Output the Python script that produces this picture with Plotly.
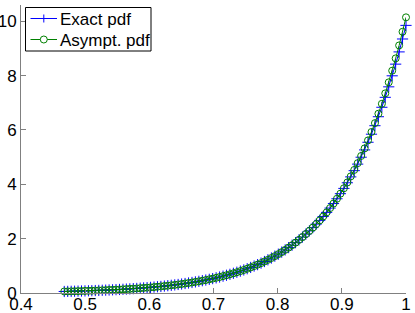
import plotly.graph_objects as go

# x grid (~100 equally spaced points from 0.4674 to 1)
x_vals = [
    0.4674, 0.4728, 0.4782, 0.4835, 0.4889, 0.4943, 0.4997, 0.5051, 0.5104, 0.5158,
    0.5212, 0.5266, 0.5320, 0.5373, 0.5427, 0.5481, 0.5535, 0.5589, 0.5642, 0.5696,
    0.5750, 0.5804, 0.5858, 0.5911, 0.5965, 0.6019, 0.6073, 0.6127, 0.6180, 0.6234,
    0.6288, 0.6342, 0.6396, 0.6449, 0.6503, 0.6557, 0.6611, 0.6665, 0.6718, 0.6772,
    0.6826, 0.6880, 0.6934, 0.6987, 0.7041, 0.7095, 0.7149, 0.7203, 0.7256, 0.7310,
    0.7364, 0.7418, 0.7472, 0.7525, 0.7579, 0.7633, 0.7687, 0.7741, 0.7794, 0.7848,
    0.7902, 0.7956, 0.8010, 0.8063, 0.8117, 0.8171, 0.8225, 0.8279, 0.8332, 0.8386,
    0.8440, 0.8494, 0.8548, 0.8601, 0.8655, 0.8709, 0.8763, 0.8817, 0.8870, 0.8924,
    0.8978, 0.9032, 0.9086, 0.9139, 0.9193, 0.9247, 0.9301, 0.9355, 0.9408, 0.9462,
    0.9516, 0.9570, 0.9624, 0.9677, 0.9731, 0.9785, 0.9839, 0.9893, 0.9946, 1.0000,
]

exact_pdf = [
    0.056, 0.059, 0.062, 0.066, 0.069, 0.073, 0.077, 0.081, 0.085, 0.090,
    0.095, 0.100, 0.105, 0.111, 0.117, 0.123, 0.130, 0.136, 0.144, 0.152,
    0.160, 0.168, 0.177, 0.187, 0.197, 0.207, 0.218, 0.230, 0.242, 0.255,
    0.269, 0.283, 0.298, 0.314, 0.331, 0.349, 0.368, 0.387, 0.408, 0.430,
    0.453, 0.477, 0.503, 0.530, 0.558, 0.588, 0.620, 0.653, 0.688, 0.725,
    0.764, 0.805, 0.848, 0.893, 0.941, 0.991, 1.044, 1.100, 1.159, 1.222,
    1.287, 1.356, 1.429, 1.505, 1.586, 1.671, 1.760, 1.854, 1.954, 2.058,
    2.169, 2.285, 2.407, 2.536, 2.672, 2.815, 2.966, 3.125, 3.292, 3.469,
    3.655, 3.850, 4.057, 4.274, 4.503, 4.744, 4.998, 5.266, 5.548, 5.845,
    6.158, 6.488, 6.836, 7.202, 7.588, 7.994, 8.423, 8.874, 9.349, 9.850,
]

asympt_pdf = [
    0.056, 0.059, 0.062, 0.066, 0.069, 0.073, 0.077, 0.081, 0.085, 0.090,
    0.095, 0.100, 0.105, 0.111, 0.117, 0.123, 0.130, 0.136, 0.144, 0.152,
    0.160, 0.168, 0.177, 0.187, 0.197, 0.207, 0.218, 0.230, 0.242, 0.255,
    0.269, 0.283, 0.298, 0.314, 0.331, 0.349, 0.368, 0.387, 0.408, 0.430,
    0.453, 0.477, 0.503, 0.530, 0.558, 0.588, 0.620, 0.653, 0.688, 0.725,
    0.764, 0.805, 0.848, 0.893, 0.941, 0.991, 1.044, 1.100, 1.159, 1.222,
    1.287, 1.356, 1.429, 1.505, 1.586, 1.671, 1.760, 1.854, 1.954, 2.058,
    2.169, 2.285, 2.407, 2.536, 2.672, 2.815, 2.966, 3.125, 3.292, 3.469,
    3.655, 3.854, 4.068, 4.292, 4.529, 4.779, 5.043, 5.322, 5.616, 5.926,
    6.253, 6.599, 6.964, 7.348, 7.754, 8.182, 8.635, 9.112, 9.614, 10.146,
]

series_names = ["Exact pdf", "Asympt. pdf"]
x_ticks = [0.4, 0.5, 0.6, 0.7, 0.8, 0.9, 1.0]
x_tick_labels = ["0.4", "0.5", "0.6", "0.7", "0.8", "0.9", "1"]
y_ticks = [0, 2, 4, 6, 8, 10]
y_tick_labels = ["0", "2", "4", "6", "8", "10"]

FONT = "Liberation Sans, Arial, Helvetica, sans-serif"
BLUE = "#0000ff"
GREEN = "#008000"

W, H = 415, 313
ML, MR, MT, MB = 21, 9, 5, 20
PW, PH = W - ML - MR, H - MT - MB


def px(xpix):
    return (xpix - ML) / PW


def py(ypix):
    return (H - MB - ypix) / PH


fig = go.Figure()
fig.add_trace(go.Scatter(
    x=x_vals, y=exact_pdf, name=series_names[0], mode="lines+markers",
    line=dict(color=BLUE, width=1),
    marker=dict(symbol="cross-thin-open", size=8, color=BLUE,
                line=dict(color=BLUE, width=1)),
    cliponaxis=False, showlegend=False,
))
fig.add_trace(go.Scatter(
    x=x_vals, y=asympt_pdf, name=series_names[1], mode="lines+markers",
    line=dict(color=GREEN, width=1),
    marker=dict(symbol="circle-open", size=7, color=GREEN,
                line=dict(color=GREEN, width=1)),
    cliponaxis=False, showlegend=False,
))

axis_common = dict(
    showgrid=False, zeroline=False, showline=True, linecolor="#808080",
    linewidth=1, ticks="inside", ticklen=5, tickcolor="#808080", tickwidth=1,
    tickfont=dict(family=FONT, size=17, color="black"),
    mirror=False, automargin=False,
)
fig.update_xaxes(range=[0.4, 1.0], tickvals=x_ticks, ticktext=x_tick_labels,
                 ticklabelstandoff=-4, **axis_common)
fig.update_yaxes(range=[0, 10.6], tickvals=y_ticks, ticktext=y_tick_labels, **axis_common)

# legend box (drawn by hand to match the compact MATLAB legend)
shapes = [dict(type="rect", xref="paper", yref="paper",
               x0=px(25.5), x1=px(151), y0=py(51), y1=py(7.5),
               line=dict(color="black", width=1), fillcolor="white", layer="above")]
annotations = []
rows = [(18.5, BLUE, "plus"), (39.5, GREEN, "circle")]
for (ycen, col, sym), name in zip(rows, series_names):
    shapes.append(dict(type="line", xref="paper", yref="paper",
                       x0=px(30.5), x1=px(57), y0=py(ycen), y1=py(ycen),
                       line=dict(color=col, width=1), layer="above"))
    cx = 43.8
    if sym == "plus":
        shapes.append(dict(type="line", xref="paper", yref="paper",
                           x0=px(cx), x1=px(cx), y0=py(ycen - 4), y1=py(ycen + 4),
                           line=dict(color=col, width=1), layer="above"))
    else:
        shapes.append(dict(type="circle", xref="paper", yref="paper",
                           x0=px(cx - 3.5), x1=px(cx + 3.5), y0=py(ycen + 3.5), y1=py(ycen - 3.5),
                           line=dict(color=col, width=1), fillcolor="white", layer="above"))
    annotations.append(dict(xref="paper", yref="paper", x=px(58), y=py(ycen + 0.5),
                            xanchor="left", yanchor="middle", text=name, showarrow=False,
                            font=dict(family=FONT, size=17, color="black")))

fig.update_layout(
    width=W, height=H,
    margin=dict(l=ML, r=MR, t=MT, b=MB),
    plot_bgcolor="white", paper_bgcolor="white",
    font=dict(family=FONT, size=17, color="black"),
    showlegend=False,
    shapes=shapes, annotations=annotations,
)

fig.write_html(
    "out.html",
    config={"displayModeBar": False},
    post_script="document.body.style.margin='0px';document.body.style.padding='0px';",
)
